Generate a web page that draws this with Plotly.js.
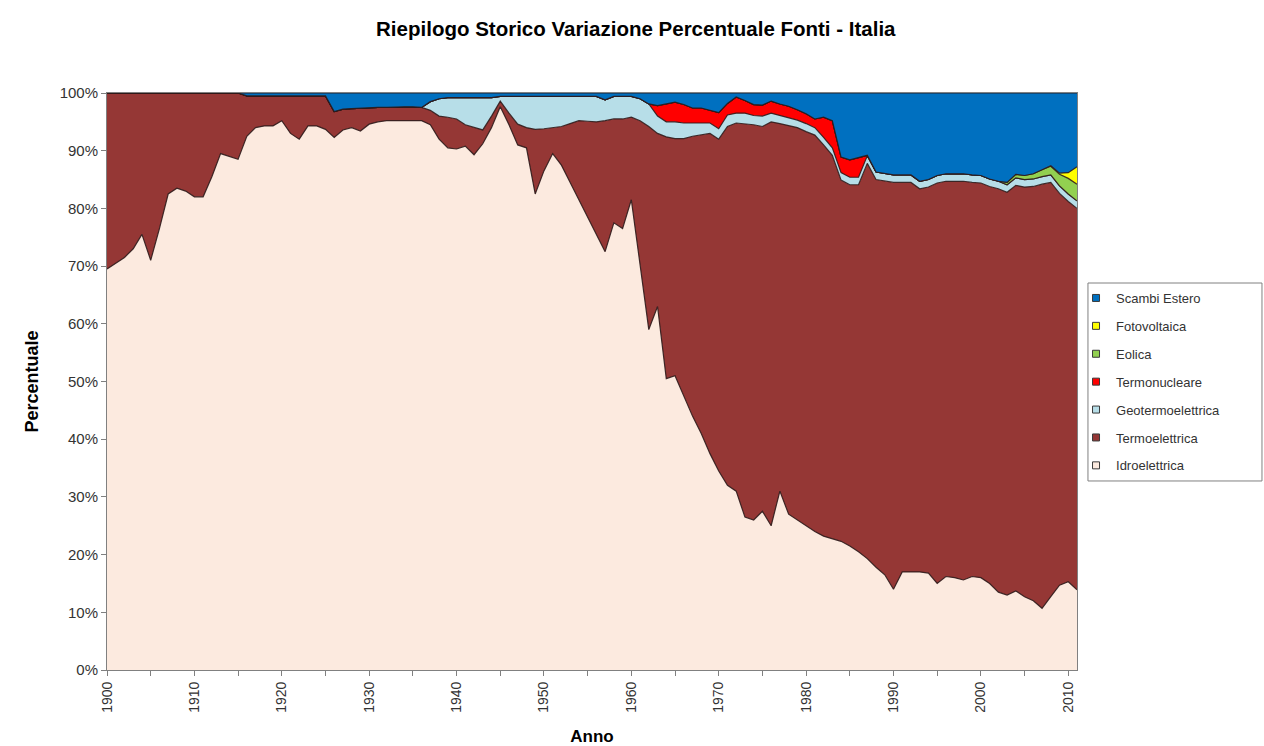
<!DOCTYPE html>
<html>
<head>
<meta charset="utf-8">
<script src="https://cdn.plot.ly/plotly-3.0.1.min.js"></script>
<style>html,body{margin:0;padding:0;background:#fff;}#chart{width:1264px;height:746px;}</style>
</head>
<body>
<div id="chart"></div>
<script>
// Years (x categories)
const years = [
 1900,1901,1902,1903,1904,1905,1906,1907,1908,1909,
 1910,1911,1912,1913,1914,1915,1916,1917,1918,1919,
 1920,1921,1922,1923,1924,1925,1926,1927,1928,1929,
 1930,1931,1932,1933,1934,1935,1936,1937,1938,1939,
 1940,1941,1942,1943,1944,1945,1946,1947,1948,1949,
 1950,1951,1952,1953,1954,1955,1956,1957,1958,1959,
 1960,1961,1962,1963,1964,1965,1966,1967,1968,1969,
 1970,1971,1972,1973,1974,1975,1976,1977,1978,1979,
 1980,1981,1982,1983,1984,1985,1986,1987,1988,1989,
 1990,1991,1992,1993,1994,1995,1996,1997,1998,1999,
 2000,2001,2002,2003,2004,2005,2006,2007,2008,2009,
 2010,2011];

// Percent shares
const idroelettrica = [
 69.5,70.5,71.5,73,75.5,71,76.5,82.5,83.5,83,
 82,82,85.5,89.5,89,88.5,92.5,94,94.3,94.3,
 95.2,93,92,94.3,94.3,93.7,92.3,93.6,94,93.4,
 94.6,95,95.2,95.2,95.3,95.3,95.2,94.5,92,90.5,
 90.3,90.8,89.3,91.2,94,97.6,94.5,91,90.5,82.5,
 86.5,89.5,87.5,84.5,81.5,78.5,75.5,72.5,77.5,76.5,
 81.5,70,59,63,50.5,51,47.5,44,41,37.5,
 34.5,32,31,26.5,26,27.5,25,31,27,26,
 25,24,23.2,22.8,22.3,21.5,20.5,19.3,17.8,16.5,
 14,17,17,17,16.8,15,16.2,16,15.6,16.2,
 16,15,13.5,13,13.7,12.7,12,10.7,12.7,14.7,
 15.3,13.9];

const termoelettrica = [
 30.5,29.5,28.5,27,24.5,29,23.5,17.5,16.5,17,
 18,18,14.5,10.5,11,11.5,7,5.5,5.2,5.2,
 4.3,6.5,7.5,5.2,5.2,5.8,4.5,3.6,3.3,4.0,
 2.9,2.5,2.3,2.4,2.3,2.3,2.3,2.5,4,5.3,
 5.2,3.7,4.7,2.4,2,1.0,2,3.6,3.5,11.2,
 7.3,4.5,6.7,10.2,13.7,16.6,19.5,22.7,18,19,
 14.3,25.2,35.2,30,41.9,41.1,44.6,48.5,51.7,55.5,
 57.5,62.2,63.8,68.2,68.5,66.7,70,63.7,67.4,68,
 68.3,68.7,67.8,66.4,62.6,62.6,63.6,68.5,67.2,68.3,
 70.5,67.5,67.5,66.4,66.9,69.4,68.5,68.7,69.1,68.3,
 68.4,68.8,69.9,69.8,70.3,71,71.8,73.5,71.8,67.9,
 65.9,66.1];

const geotermoelettrica = [
 0,0,0,0,0,0,0,0,0,0,
 0,0,0,0,0,0,0,0,0,0,
 0,0,0,0,0,0,0,0,0,0,
 0,0,0,0,0,0,0,1.5,3.0,3.4,
 3.7,4.7,5.2,5.6,3.2,0.8,2.9,4.8,5.4,5.7,
 5.6,5.4,5.2,4.7,4.2,4.3,4.4,3.6,3.9,3.9,
 3.6,3.8,3.9,3.0,2.6,2.9,2.7,2.3,2.1,1.8,
 1.8,2.0,1.7,1.8,1.6,1.8,1.5,1.4,1.3,1.3,
 1.4,1.3,1.3,1.3,1.3,1.3,1.3,1.3,1.3,1.3,
 1.3,1.3,1.3,1.3,1.3,1.3,1.3,1.3,1.3,1.3,
 1.3,1.3,1.3,1.3,1.3,1.3,1.3,1.3,1.3,1.3,
 1.3,1.3];

const termonucleare = [
 0,0,0,0,0,0,0,0,0,0,
 0,0,0,0,0,0,0,0,0,0,
 0,0,0,0,0,0,0,0,0,0,
 0,0,0,0,0,0,0,0,0,0,
 0,0,0,0,0,0,0,0,0,0,
 0,0,0,0,0,0,0,0,0,0,
 0,0,0,1.8,3.1,3.4,3.2,2.6,2.6,2.2,
 2.8,2.0,2.8,2.2,1.9,1.9,2.1,2.0,2.0,1.8,
 1.7,1.5,3.5,4.7,2.7,3.0,3.4,0.1,0,0,
 0,0,0,0,0,0,0,0,0,0,
 0,0,0,0,0,0,0,0,0,0,
 0,0];

const eolica = [
 0,0,0,0,0,0,0,0,0,0,
 0,0,0,0,0,0,0,0,0,0,
 0,0,0,0,0,0,0,0,0,0,
 0,0,0,0,0,0,0,0,0,0,
 0,0,0,0,0,0,0,0,0,0,
 0,0,0,0,0,0,0,0,0,0,
 0,0,0,0,0,0,0,0,0,0,
 0,0,0,0,0,0,0,0,0,0,
 0,0,0,0,0,0,0,0,0,0,
 0,0,0,0,0,0,0,0,0,0,
 0,0,0,0.4,0.6,0.7,0.9,1.2,1.5,2.0,
 2.7,2.9];

const fotovoltaica = [
 0,0,0,0,0,0,0,0,0,0,
 0,0,0,0,0,0,0,0,0,0,
 0,0,0,0,0,0,0,0,0,0,
 0,0,0,0,0,0,0,0,0,0,
 0,0,0,0,0,0,0,0,0,0,
 0,0,0,0,0,0,0,0,0,0,
 0,0,0,0,0,0,0,0,0,0,
 0,0,0,0,0,0,0,0,0,0,
 0,0,0,0,0,0,0,0,0,0,
 0,0,0,0,0,0,0,0,0,0,
 0,0,0,0,0,0,0,0,0.1,0.2,
 1.0,3.0];

const scambiEstero = [
 0,0,0,0,0,0,0,0,0,0,
 0,0,0,0,0,0,0.5,0.5,0.5,0.5,
 0.5,0.5,0.5,0.5,0.5,0.5,3.2,2.8,2.7,2.6,
 2.5,2.5,2.5,2.4,2.4,2.4,2.5,1.5,1.0,0.8,
 0.8,0.8,0.8,0.8,0.8,0.6,0.6,0.6,0.6,0.6,
 0.6,0.6,0.6,0.6,0.6,0.6,0.6,1.2,0.6,0.6,
 0.6,1.0,1.9,2.2,1.9,1.6,2.0,2.6,2.6,3.0,
 3.4,1.8,0.7,1.3,2.0,2.1,1.4,1.9,2.3,2.9,
 3.6,4.5,4.2,4.8,11.1,11.6,11.2,10.8,13.7,13.9,
 14.2,14.2,14.2,15.3,15.0,14.3,14.0,14.0,14.0,14.2,
 14.3,14.9,15.3,15.5,14.1,14.3,14.0,13.3,12.6,13.9,
 13.8,12.8];

const seriesNames = ['Idroelettrica','Termoelettrica','Geotermoelettrica','Termonucleare','Eolica','Fotovoltaica','Scambi Estero'];
const seriesColors = ['#FCEADF','#953735','#B7DEE8','#FF0000','#92D050','#FFFF00','#0070C0'];
const tickYears = [1900,1910,1920,1930,1940,1950,1960,1970,1980,1990,2000,2010];
const tickLabels = ['1900','1910','1920','1930','1940','1950','1960','1970','1980','1990','2000','2010'];

const seriesValues = [idroelettrica, termoelettrica, geotermoelettrica, termonucleare, eolica, fotovoltaica, scambiEstero];

const FONT = 'Arial, "Liberation Sans", sans-serif';
const traces = [];
seriesNames.forEach((name, i) => {
  traces.push({
    type: 'scatter', mode: 'lines', x: years, y: seriesValues[i],
    stackgroup: 'one', groupnorm: i === 0 ? 'percent' : undefined,
    name: name, showlegend: false,
    line: {color: 'rgba(45,25,25,0.9)', width: 1.2},
    fillcolor: seriesColors[i], hoverinfo: 'x+y+name'
  });
});
// legend entries (top to bottom as in the reference)
for (let i = seriesNames.length - 1; i >= 0; i--) {
  traces.push({
    type: 'scatter', mode: 'markers', x: [null], y: [null],
    name: seriesNames[i], legendgroup: 'g' + i, showlegend: true,
    marker: {symbol: 'square', size: 7, color: seriesColors[i], line: {color: '#3a3a3a', width: 1}}
  });
}

const layout = {
  width: 1264, height: 746,
  margin: {l: 107, r: 187, t: 93, b: 76},
  paper_bgcolor: '#ffffff', plot_bgcolor: '#ffffff',
  font: {family: FONT, color: '#303030'},
  title: {text: '<b>Riepilogo Storico Variazione Percentuale Fonti - Italia</b>',
          font: {family: FONT, size: 20.5, color: '#000000'},
          x: 0.503, xanchor: 'center', y: 0.962, yanchor: 'middle'},
  xaxis: {
    type: 'linear', range: [1900, 2011], tickmode: 'array',
    tickvals: tickYears, ticktext: tickLabels, tickangle: -90,
    ticks: 'outside', ticklen: 5, tickcolor: '#808080',
    minor: {tick0: 1900, dtick: 5, ticks: 'outside', ticklen: 5, tickcolor: '#808080', showgrid: false},
    showline: true, linecolor: '#808080', linewidth: 1, mirror: true,
    showgrid: false, zeroline: false,
    tickfont: {family: FONT, size: 14, color: '#333333'},
    title: {text: '<b>Anno</b>', font: {family: FONT, size: 17, color: '#000000'}, standoff: 20}
  },
  yaxis: {
    range: [0, 100], tickmode: 'linear', tick0: 0, dtick: 10, ticksuffix: '%',
    ticks: 'outside', ticklen: 5, tickcolor: '#808080',
    showline: true, linecolor: '#808080', linewidth: 1, mirror: true,
    showgrid: false, zeroline: false,
    tickfont: {family: FONT, size: 15, color: '#333333'},
    title: {text: '<b>Percentuale</b>', font: {family: FONT, size: 18, color: '#000000'}, standoff: 16}
  },
  legend: {
    x: 0.999, xanchor: 'left', y: 0.6707, yanchor: 'top',
    traceorder: 'grouped', tracegroupgap: 8,
    font: {family: FONT, size: 13, color: '#333333'},
    bgcolor: 'rgba(0,0,0,0)', borderwidth: 0
  },
  shapes: [{
    type: 'rect', xref: 'paper', yref: 'paper',
    x0: 1.0113, x1: 1.1907, y0: 0.3276, y1: 0.6707,
    line: {color: '#808080', width: 1}, fillcolor: 'rgba(0,0,0,0)'
  }]
};

Plotly.newPlot('chart', traces, layout, {displayModeBar: false, staticPlot: true});
</script>
</body>
</html>
